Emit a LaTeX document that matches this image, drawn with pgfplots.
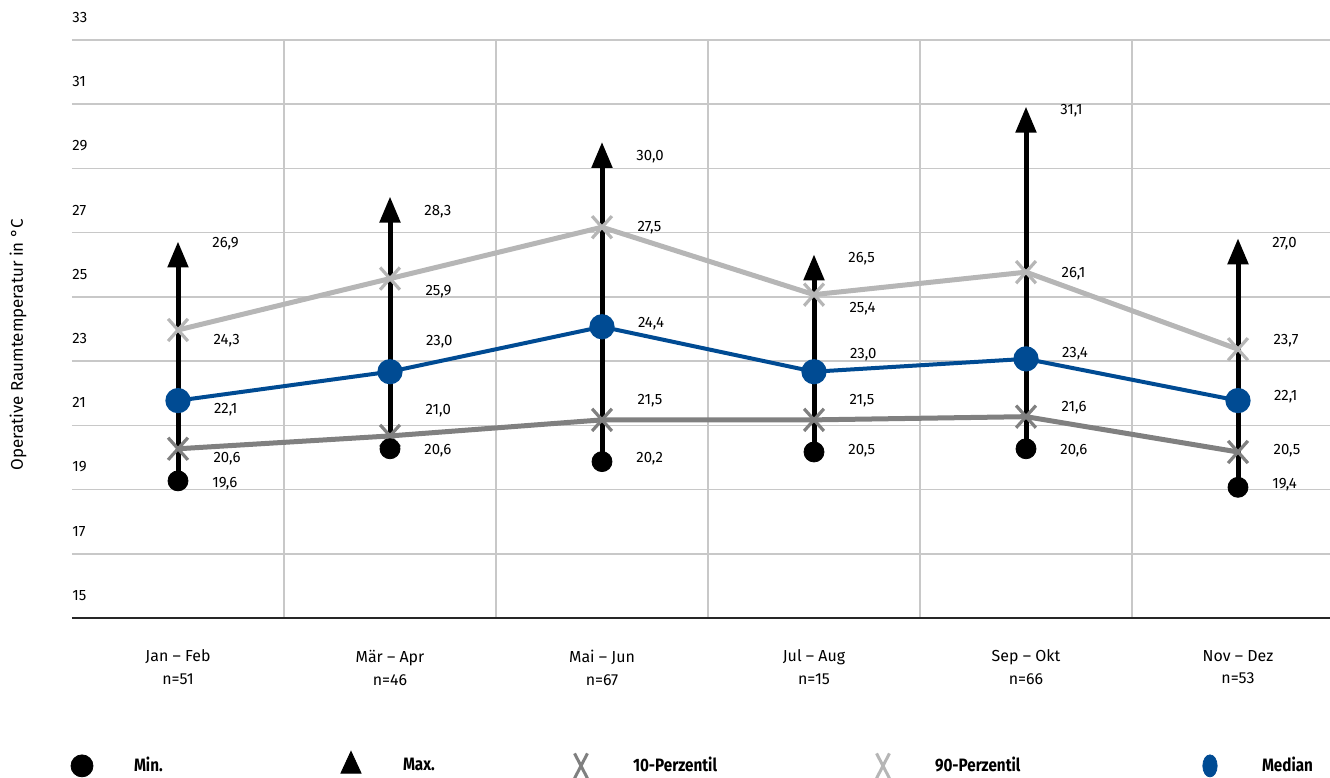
\documentclass[border=0pt]{standalone}
\usepackage{fontspec}
\setmainfont{Fira Sans}
\newfontfamily\legfont[FakeStretch=0.85]{Fira Sans}
\usepackage{pgfplots}
\pgfplotsset{compat=1.18}
\usepackage{pgfplotstable}
\usetikzlibrary{arrows.meta}
\definecolor{medblue}{RGB}{0,75,147}
\definecolor{p10col}{RGB}{128,128,128}
\definecolor{p90col}{RGB}{182,182,182}
\definecolor{gridcol}{RGB}{200,200,200}

\pgfplotstableread{
x min dmin p10 d10 med dmed p90 d90 max dmax
0 19.6 -1.5 20.6 -5   22.1 -4.5 24.3 -5.5 26.9 1.5
1 20.6 -1   21.0 12.5 23.0 15   25.9 -6.5 28.3 -5
2 20.2 1.5  21.5 9.5  24.4 1.5  27.5 0    30.0 -5
3 20.5 0.5  21.5 9.5  23.0 8.5  25.4 -7   26.5 0.5
4 20.6 -1   21.6 4.5  23.4 2.5  26.1 -1   31.1 0.5
5 19.4 1.5  20.5 0.5  22.1 2    23.7 4.5  27.0 0
}\data

\begin{document}
\begin{tikzpicture}
\begin{axis}[
  scale only axis, width=629bp, height=289bp,
  xmin=-0.5, xmax=5.434, ymin=15.33, ymax=33.33,
  clip=false,
  axis line style={draw=none},
  major tick length=0pt,
  xtick={0,1,2,3,4,5},
  xticklabels={{Jan – Feb\\n=51},{Mär – Apr\\n=46},{Mai – Jun\\n=67},{Jul – Aug\\n=15},{Sep – Okt\\n=66},{Nov – Dez\\n=53}},
  xticklabel style={align=center, font=\fontsize{8}{11.5}\selectfont, anchor=north, yshift=-12.5bp},
  extra x ticks={0.5,1.5,2.5,3.5,4.5},
  extra x tick labels={},
  extra x tick style={grid=major},
  ytick={15.33,17.33,19.33,21.33,23.33,25.33,27.33,29.33,31.33,33.33},
  yticklabels={15,17,19,21,23,25,27,29,31,33},
  yticklabel style={anchor=south west, inner sep=0pt, yshift=8.5bp, font=\fontsize{7.5}{9}\selectfont},
  ymajorgrids,
  grid style={gridcol, line width=0.8bp},
  /pgf/number format/use comma,
  /pgf/number format/fixed,
  /pgf/number format/fixed zerofill,
  /pgf/number format/precision=1,
  /pgf/number format/assume math mode=true,
  vlab/.style={nodes near coords,
    visualization depends on={\thisrow{#1} \as \dy},
    every node near coord/.append style={anchor=west, xshift=17bp, yshift=\dy*1bp, text=black, font=\fontsize{7.5}{9}\selectfont, inner sep=0pt}},
  legend columns=5,
  legend cell align=left,
  legend style={draw=none, fill=none, inner sep=0pt, outer sep=0pt,
    at={(axis description cs:0,0)}, anchor=west, xshift=-7bp, yshift=-73.5bp,
    /tikz/column sep=0pt,
    font=\legfont\fontsize{9}{11}\selectfont\bfseries,
    nodes={inner xsep=0pt}},
  legend image code/.code={\path[draw=none, fill=none] (-12bp,0) -- (26bp,0); \draw[#1] plot coordinates {(0bp,0bp)};},
]
% arrows min -> max
\addplot[forget plot, black, line width=2.5bp, -{Triangle[width=10bp,length=13bp]}, shorten >=-2.5bp] coordinates {(0,19.6) (0,26.9)};
\addplot[forget plot, black, line width=2.5bp, -{Triangle[width=10bp,length=13bp]}, shorten >=-2.5bp] coordinates {(1,20.6) (1,28.3)};
\addplot[forget plot, black, line width=2.5bp, -{Triangle[width=10bp,length=13bp]}, shorten >=-2.5bp] coordinates {(2,20.2) (2,30.0)};
\addplot[forget plot, black, line width=2.5bp, -{Triangle[width=10bp,length=13bp]}, shorten >=-2.5bp] coordinates {(3,20.5) (3,26.5)};
\addplot[forget plot, black, line width=2.5bp, -{Triangle[width=10bp,length=13bp]}, shorten >=-2.5bp] coordinates {(4,20.6) (4,31.1)};
\addplot[forget plot, black, line width=2.5bp, -{Triangle[width=10bp,length=13bp]}, shorten >=-2.5bp] coordinates {(5,19.4) (5,27.0)};
% max labels
\addplot[forget plot, draw=none, mark=none, vlab=dmax] table[x=x, y=max] {\data};
% 90-Perzentil
\addplot[forget plot, p90col, line width=2.5bp, mark=x, mark size=7bp, mark options={yscale=1.12, line width=1.6bp}, vlab=d90] table[x=x, y=p90] {\data};
% 10-Perzentil
\addplot[forget plot, p10col, line width=2.5bp, mark=x, mark size=7bp, mark options={yscale=1.12, line width=1.6bp}, vlab=d10] table[x=x, y=p10] {\data};
% Median
\addplot[forget plot, medblue, line width=2bp, mark=*, mark size=5.3bp, vlab=dmed] table[x=x, y=med] {\data};
% Min
\addplot[forget plot, only marks, black, mark=*, mark size=5bp, vlab=dmin] table[x=x, y=min] {\data};

\draw[black!85, line width=0.9bp] (rel axis cs:0,0) -- (rel axis cs:1,0);
\node[rotate=90, font=\fontsize{8.5}{10}\selectfont] at ([xshift=-27bp]rel axis cs:0,0.4723) {Operative Raumtemperatur in °C};

\addlegendimage{black, mark=*, mark size=5.5bp}
\addlegendentry[text width=96.5bp]{Min.}
\addlegendimage{black, mark=triangle*, mark size=5.8bp, mark options={yscale=1.25}}
\addlegendentry[text width=77bp]{Max.}
\addlegendimage{p10col, mark=x, mark size=8.8bp, mark options={xscale=0.52, line width=1.5bp}}
\addlegendentry[text width=113bp]{10-Perzentil}
\addlegendimage{p90col, mark=x, mark size=8.8bp, mark options={xscale=0.52, line width=1.5bp}}
\addlegendentry[text width=125.5bp]{90-Perzentil}
\addlegendimage{medblue, mark=*, mark size=5.5bp, mark options={xscale=0.65}}
\addlegendentry[text width=40bp]{Median}
\end{axis}
\pgfresetboundingbox
\path[use as bounding box] (-36bp,-80bp) rectangle (629bp,309bp);
\end{tikzpicture}
\end{document}
